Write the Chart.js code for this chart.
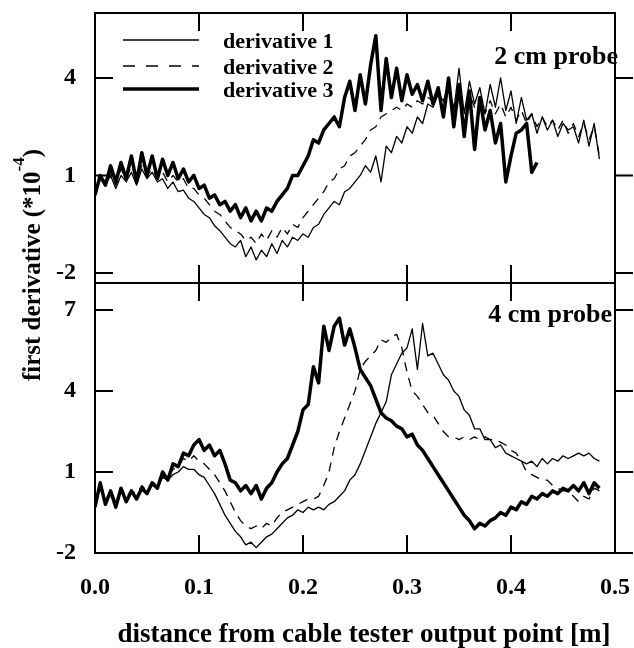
<!DOCTYPE html>
<html><head><meta charset="utf-8">
<script src="https://cdn.jsdelivr.net/npm/chart.js@4"></script>
<style>html,body{margin:0;padding:0;background:#fff;}#wrap{position:relative;width:634px;height:648px;}</style>
</head><body><div id="wrap"><canvas id="c" width="634" height="648"></canvas></div>
<script>
// ---- data ----
const xs = [
0.000,0.005,0.010,0.015,0.020,0.025,0.030,0.035,0.040,0.045,
0.050,0.055,0.060,0.065,0.070,0.075,0.080,0.085,0.090,0.095,
0.100,0.105,0.110,0.115,0.120,0.125,0.130,0.135,0.140,0.145,
0.150,0.155,0.160,0.165,0.170,0.175,0.180,0.185,0.190,0.195,
0.200,0.205,0.210,0.215,0.220,0.225,0.230,0.235,0.240,0.245,
0.250,0.255,0.260,0.265,0.270,0.275,0.280,0.285,0.290,0.295,
0.300,0.305,0.310,0.315,0.320,0.325,0.330,0.335,0.340,0.345,
0.350,0.355,0.360,0.365,0.370,0.375,0.380,0.385,0.390,0.395,
0.400,0.405,0.410,0.415,0.420,0.425,0.430,0.435,0.440,0.445,
0.450,0.455,0.460,0.465,0.470,0.475,0.480,0.485];

// 2 cm probe
const top1 = [
0.5,0.9,0.7,1.0,0.6,1.0,0.8,1.1,0.7,1.2,
0.9,1.1,0.8,0.9,0.6,0.8,0.5,0.55,0.3,0.2,
0.0,-0.2,-0.3,-0.55,-0.7,-0.9,-1.1,-1.2,-1.0,-1.5,
-1.2,-1.6,-1.3,-1.5,-1.1,-1.4,-1.0,-1.2,-0.9,-1.0,
-0.8,-0.9,-0.6,-0.5,-0.2,0.0,0.2,0.1,0.5,0.6,
0.8,1.0,1.3,1.1,1.6,0.8,1.9,1.7,2.2,2.0,
2.5,2.3,2.8,2.6,3.2,3.1,3.5,3.3,3.8,3.0,
4.3,2.9,3.9,3.2,3.7,2.9,3.8,3.1,4.0,3.0,
3.6,2.6,3.4,2.7,2.9,2.3,2.8,2.4,2.7,2.2,
2.6,2.4,2.5,2.0,2.7,1.9,2.6,1.5];
const top2 = [
0.5,1.0,0.8,1.1,0.7,1.2,0.9,1.3,0.9,1.3,
1.0,1.2,0.9,1.1,0.8,1.0,0.8,0.9,0.6,0.6,
0.4,0.3,0.1,-0.1,-0.2,-0.4,-0.6,-0.7,-0.8,-1.0,
-0.9,-1.1,-0.8,-1.0,-0.7,-0.9,-0.6,-0.8,-0.5,-0.6,
-0.3,-0.1,0.1,0.3,0.5,0.8,0.9,1.2,1.3,1.6,
1.7,1.9,2.1,2.4,2.5,2.8,2.9,3.0,3.1,3.0,
3.2,3.1,3.3,3.2,3.4,3.3,3.6,3.2,3.7,3.1,
3.6,3.0,3.5,3.1,3.4,2.9,3.3,2.9,3.2,2.8,
3.1,2.7,3.0,2.6,2.9,2.5,2.8,2.5,2.7,2.4,
2.7,2.3,2.6,2.2,2.6,2.1,2.5,1.6];
const top3 = [
0.4,1.0,0.7,1.3,0.8,1.4,0.9,1.6,0.8,1.7,
1.0,1.6,0.9,1.5,1.0,1.4,0.9,1.2,0.8,1.0,
0.6,0.7,0.3,0.4,0.1,0.2,-0.1,0.1,-0.3,0.0,
-0.4,-0.1,-0.4,0.0,-0.1,0.2,0.4,0.6,1.0,1.0,
1.3,1.6,2.1,2.0,2.4,2.6,2.8,2.5,3.4,3.9,
3.0,4.1,3.2,4.4,5.3,3.0,4.6,3.4,4.3,3.3,
4.1,3.5,3.8,3.3,3.9,3.2,3.7,2.8,4.0,2.5,
3.8,2.2,3.6,1.8,3.4,2.4,3.0,2.0,2.6,0.8,
1.6,2.3,2.4,2.6,1.1,1.4,null,null,null,null,
null,null,null,null,null,null,null,null];

// 4 cm probe
const bot1 = [
-0.3,0.5,-0.1,0.2,-0.2,0.3,0.0,0.2,0.1,0.4,
0.2,0.5,0.4,0.8,0.7,0.9,1.0,1.2,1.1,1.1,
0.9,0.8,0.5,0.2,-0.2,-0.6,-0.9,-1.2,-1.4,-1.7,
-1.6,-1.8,-1.6,-1.4,-1.3,-1.1,-0.9,-0.7,-0.6,-0.4,
-0.5,-0.3,-0.4,-0.3,-0.4,-0.2,-0.1,0.1,0.3,0.7,
0.9,1.3,1.8,2.3,2.8,3.2,3.6,4.6,5.0,5.4,
5.6,6.3,4.8,6.5,5.3,5.4,5.0,4.6,4.4,4.0,
3.8,3.3,3.1,2.6,2.6,2.2,2.2,1.9,2.0,1.7,
1.6,1.5,1.4,1.3,1.4,1.2,1.5,1.3,1.5,1.4,
1.6,1.5,1.6,1.7,1.6,1.7,1.5,1.4];
const bot2 = [
-0.3,0.4,-0.1,0.3,-0.1,0.3,0.1,0.3,0.2,0.5,
0.3,0.6,0.5,0.9,0.8,1.1,1.2,1.5,1.4,1.6,
1.4,1.3,1.1,0.9,0.6,0.3,-0.1,-0.5,-0.8,-1.0,
-1.1,-1.0,-1.1,-0.9,-1.0,-0.7,-0.5,-0.4,-0.3,-0.2,
-0.1,0.0,0.0,0.1,0.5,1.0,1.9,2.5,3.0,3.5,
4.0,4.8,5.1,5.3,5.5,5.9,5.8,6.0,6.1,5.6,
4.7,4.0,3.8,3.5,3.2,3.1,2.8,2.5,2.3,2.3,
2.2,2.3,2.2,2.3,2.2,2.3,2.2,2.2,2.1,2.0,
1.8,1.7,1.4,1.0,0.9,0.8,0.7,0.7,0.5,0.4,
0.3,0.3,0.1,-0.1,0.1,0.0,0.4,0.3];
const bot3 = [
-0.3,0.6,-0.2,0.3,-0.3,0.4,-0.1,0.3,0.0,0.4,
0.2,0.6,0.4,1.0,0.7,1.3,1.2,1.7,1.6,2.0,
2.2,1.8,2.0,1.6,1.8,1.3,0.7,0.6,0.3,0.5,
0.2,0.5,0.0,0.4,0.6,1.0,1.3,1.5,2.0,2.5,
3.3,3.5,4.9,4.3,6.4,5.5,6.4,6.7,5.7,6.3,
5.6,4.8,4.5,4.2,3.7,3.2,3.0,2.9,2.7,2.6,
2.3,2.4,2.0,1.8,1.5,1.2,0.9,0.6,0.3,0.0,
-0.3,-0.6,-0.8,-1.1,-0.9,-1.0,-0.8,-0.7,-0.5,-0.6,
-0.3,-0.4,-0.1,-0.2,0.1,0.0,0.2,0.1,0.3,0.2,
0.4,0.3,0.5,0.3,0.6,0.2,0.6,0.4];

const seriesLabels = ['derivative 1','derivative 2','derivative 3'];
const panelLabels = ['2 cm probe','4 cm probe'];
const xTicks = [0.0,0.1,0.2,0.3,0.4,0.5];
const yTopTicks = [-2,1,4];
const yBotTicks = [-2,1,4,7];
const xTitle = 'distance from cable tester output point [m]';
const yTitleMain = 'first derivative (*10';
const yTitleSup = '-4';
const yTitleEnd = ')';

// ---- styles ----
const FONT = 'Liberation Serif';
const styles = [
  {borderWidth:1.3, borderDash:[]},
  {borderWidth:1.3, borderDash:[9,7]},
  {borderWidth:3.5, borderDash:[]}
];
const pts = ys => xs.map((x,i)=>({x:x, y:ys[i]}));
const mk = (ys, k, axis) => Object.assign({
  label: seriesLabels[k], data: pts(ys), yAxisID: axis,
  borderColor:'#000', backgroundColor:'#000', pointRadius:0, tension:0,
  fill:false, spanGaps:false, borderJoinStyle:'round', borderCapStyle:'butt'
}, styles[k]);

const tickFont = {family:FONT, weight:'bold', size:24};

const overlay = {
  id:'overlay',
  afterDraw(chart){
    const ctx = chart.ctx, x = chart.scales.x;
    const TL = 18;
    ctx.save();
    ctx.strokeStyle = '#000'; ctx.fillStyle = '#000'; ctx.lineWidth = 2;
    [[chart.scales.yTop, yTopTicks],[chart.scales.yBot, yBotTicks]].forEach(([ys, tv])=>{
      ctx.strokeRect(x.left, ys.top, x.right - x.left, ys.bottom - ys.top);
      ctx.beginPath();
      tv.forEach(v=>{
        const py = ys.getPixelForValue(v);
        ctx.moveTo(x.left, py); ctx.lineTo(x.left + TL, py);
        ctx.moveTo(x.right, py); ctx.lineTo(x.right + TL, py);
      });
      xTicks.forEach(v=>{
        const px = x.getPixelForValue(v);
        ctx.moveTo(px, ys.top); ctx.lineTo(px, ys.top + TL);
        ctx.moveTo(px, ys.bottom); ctx.lineTo(px, ys.bottom - TL);
      });
      ctx.stroke();
    });
    // legend
    const legY = [40, 66, 89];
    chart.data.datasets.slice(0,3).forEach((ds,k)=>{
      ctx.beginPath();
      ctx.lineWidth = k===2 ? 3.5 : 1.5;
      ctx.setLineDash(k===1 ? [12,11] : []);
      ctx.moveTo(123, legY[k]); ctx.lineTo(199, legY[k]);
      ctx.stroke();
      ctx.setLineDash([]);
      ctx.font = 'bold 22px "' + FONT + '"';
      ctx.textAlign = 'left'; ctx.textBaseline = 'middle';
      ctx.fillText(ds.label, 223, legY[k] + 2);
    });
    // panel labels
    ctx.font = 'bold 26px "' + FONT + '"';
    ctx.textAlign = 'right'; ctx.textBaseline = 'middle';
    ctx.fillText(panelLabels[0], 618, 57);
    ctx.fillText(panelLabels[1], 612, 315);
    // x title
    ctx.font = 'bold 27px "' + FONT + '"';
    ctx.textAlign = 'center'; ctx.textBaseline = 'middle';
    ctx.fillText(xTitle, 364, 635);
    // y title (rotated)
    ctx.translate(40, 265);
    ctx.rotate(-Math.PI/2);
    const fMain = 'bold 25px "' + FONT + '"', fSup = 'bold 17px "' + FONT + '"';
    ctx.font = fMain; const w1 = ctx.measureText(yTitleMain).width; const w3 = ctx.measureText(yTitleEnd).width;
    ctx.font = fSup; const w2 = ctx.measureText(yTitleSup).width;
    let sx = -(w1 + w2 + w3)/2;
    ctx.textAlign = 'left'; ctx.textBaseline = 'alphabetic';
    ctx.font = fMain; ctx.fillText(yTitleMain, sx, 0); sx += w1;
    ctx.font = fSup; ctx.fillText(yTitleSup, sx, -16); sx += w2;
    ctx.font = fMain; ctx.fillText(yTitleEnd, sx, 0);
    ctx.restore();
  }
};

const yScale = (min, max, tv, w) => ({
  type:'linear', position:'left', stack:'panels', stackWeight:1, weight:w,
  min:min, max:max,
  afterFit: s => { s.width = 95; s.paddingTop = 0; s.paddingBottom = 0; },
  afterBuildTicks: s => { s.ticks = tv.map(v=>({value:v})); },
  grid:{display:false, drawTicks:false}, border:{display:false},
  ticks:{padding:19, color:'#000', font:tickFont, callback: v => String(v)}
});

new Chart(document.getElementById('c'), {
  type:'line',
  data:{ datasets:[
    mk(top1,0,'yTop'), mk(top2,1,'yTop'), mk(top3,2,'yTop'),
    mk(bot1,0,'yBot'), mk(bot2,1,'yBot'), mk(bot3,2,'yBot')
  ]},
  options:{
    responsive:false, animation:false, devicePixelRatio:1,
    layout:{padding:{left:0, right:19, top:13, bottom:0}},
    plugins:{legend:{display:false}, tooltip:{enabled:false}, title:{display:false}},
    scales:{
      x:{ type:'linear', position:'bottom', min:0, max:0.5,
          afterFit: s => { s.height = 95; s.paddingLeft = 0; s.paddingRight = 0; },
          afterBuildTicks: s => { s.ticks = xTicks.map(v=>({value:v})); },
          grid:{display:false, drawTicks:false}, border:{display:false},
          ticks:{padding:20, color:'#000', font:tickFont, maxRotation:0, autoSkip:false,
                 callback: v => Number(v).toFixed(1)} },
      yTop: yScale(-2.31, 6.0, yTopTicks, 2),
      yBot: yScale(-2, 8, yBotTicks, 1)
    }
  },
  plugins:[overlay]
});
</script></body></html>
